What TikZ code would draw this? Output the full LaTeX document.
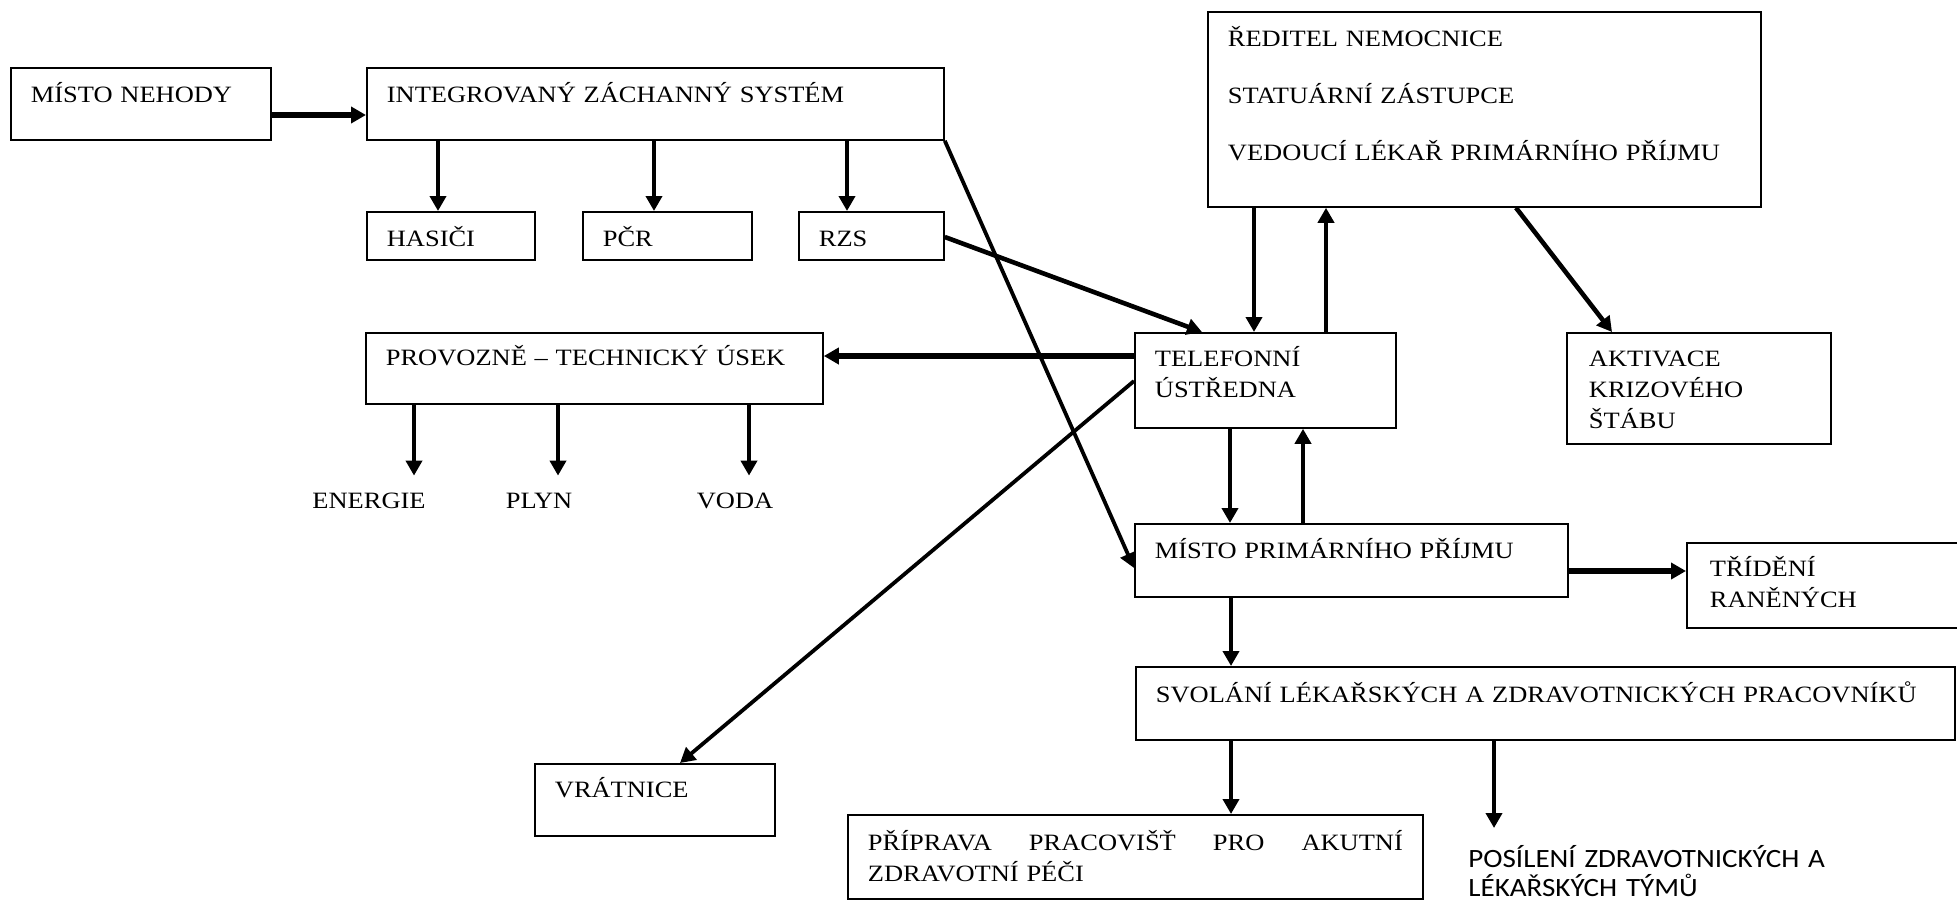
\documentclass[tikz,border=0pt]{standalone}
\usepackage{fontspec}
\setmainfont{Liberation Serif}[FakeStretch=1.13]
\newfontfamily\calibri{Carlito}[FakeStretch=1.1]
\usetikzlibrary{arrows.meta}

\tikzset{
  box/.style={draw, line width=0.9pt, anchor=north west, inner xsep=10pt, inner ysep=0pt,
    align=left, text height=17.5pt},
  lbl/.style={inner sep=0pt, anchor=base, text height=8.5pt},
  arr/.style={line width=2.3pt, -{Triangle[length=7.5pt,width=8pt]}},
  fat/.style={arr, line width=2.8pt},
}

\begin{document}
\begin{tikzpicture}[x=0.5pt, y=-0.5pt, font=\fontsize{11.7}{15.5}\selectfont]
    \useasboundingbox (0,0) rectangle (1957,904);
    % top row
    \node[box, text width=110pt, text depth=18.5pt] (nehoda) at (10,67) {MÍSTO NEHODY};
    \node[box, text width=268.5pt, text depth=18.5pt] (izs) at (366,67) {INTEGROVANÝ ZÁCHANNÝ SYSTÉM};
    \node[box, text width=64pt, text depth=6.5pt] (hasici) at (366,211) {HASIČI};
    \node[box, text width=64.5pt, text depth=6.5pt] (pcr) at (582,211) {PČR};
    \node[box, text width=52.5pt, text depth=6.5pt] (rzs) at (798,211) {RZS};
    \node[box, text width=256.5pt, text depth=80pt] (reditel) at (1207,11)
      {ŘEDITEL NEMOCNICE\\[13pt] STATUÁRNÍ ZÁSTUPCE\\[13pt] VEDOUCÍ LÉKAŘ PRIMÁRNÍHO PŘÍJMU};
    % middle
    \node[box, text width=208.5pt, text height=16.5pt, text depth=19pt] (provoz) at (365,332) {PROVOZNĚ – TECHNICKÝ ÚSEK};
    \node[box, text width=110.5pt, text height=17pt, text depth=30.5pt] (telefon) at (1134,332) {TELEFONNÍ\\ ÚSTŘEDNA};
    \node[box, text width=110pt, inner xsep=11pt, text height=17pt, text depth=38.5pt] (aktivace) at (1566,332) {AKTIVACE\\ KRIZOVÉHO\\ ŠTÁBU};
    \node[lbl] (energie) at (369,508) {ENERGIE};
    \node[lbl] (plyn) at (539,508) {PLYN};
    \node[lbl] (voda) at (735,508) {VODA};
    % bottom
    \node[box, text width=196.5pt, text depth=19pt] (mpp) at (1134,523) {MÍSTO PRIMÁRNÍHO PŘÍJMU};
    \node[box, text width=116pt, inner xsep=11.5pt, text height=17pt, text depth=25.5pt] (trideni) at (1686,542) {TŘÍDĚNÍ\\ RANĚNÝCH};
    \node[box, text width=389.5pt, text height=18pt, text depth=18.5pt] (svolani) at (1135,666) {SVOLÁNÍ LÉKAŘSKÝCH A ZDRAVOTNICKÝCH PRACOVNÍKŮ};
    \node[box, text width=100pt, text height=17pt, text depth=19pt] (vratnice) at (534,763) {VRÁTNICE};
    \node[box, text width=267.5pt, text height=18pt, text depth=24pt] (priprava) at (847,814)
      {PŘÍPRAVA\hfill PRACOVIŠŤ\hfill PRO\hfill AKUTNÍ\\ ZDRAVOTNÍ PÉČI};
    \node[anchor=north west, inner sep=0pt, align=left, text width=200pt, text height=8.5pt,
      font=\calibri\fontsize{13.2}{14.5}\selectfont] (posil) at (1468,850)
      {POSÍLENÍ ZDRAVOTNICKÝCH A\\ LÉKAŘSKÝCH TÝMŮ};

    \draw[fat] (nehoda.east |- 0,115) -- (izs.west |- 0,115);
    \foreach \x/\n in {438/hasici, 654/pcr, 847/rzs}
      \draw[arr] (\x,0 |- izs.south) -- (\x,0 |- \n.north);
    \draw[arr] (rzs.east |- 0,237) -- (1202,0 |- telefon.north);
    \draw[arr, line width=1.9pt] (izs.south east) -- (mpp.west |- 0,568);
    \draw[arr] (1254,0 |- reditel.south) -- (1254,0 |- telefon.north);
    \draw[arr] (1326,0 |- telefon.north) -- (1326,0 |- reditel.south);
    \draw[arr] (1516,0 |- reditel.south) -- (1612,0 |- aktivace.north);
    \draw[fat] (telefon.west |- 0,356) -- (provoz.east |- 0,356);
    \foreach \x/\n in {414/energie, 558/plyn, 749/voda}
      \draw[arr, shorten >=7.5pt] (\x,0 |- provoz.south) -- (\x,0 |- \n.north);
    \draw[arr, line width=1.9pt] (telefon.west |- 0,381) -- (680,0 |- vratnice.north);
    \draw[arr] (1230,0 |- telefon.south) -- (1230,0 |- mpp.north);
    \draw[arr] (1303,0 |- mpp.north) -- (1303,0 |- telefon.south);
    \draw[fat] (mpp.east |- 0,571) -- (trideni.west |- 0,571);
    \draw[arr] (1231,0 |- mpp.south) -- (1231,0 |- svolani.north);
    \draw[arr] (1231,0 |- svolani.south) -- (1231,0 |- priprava.north);
    \draw[arr, shorten >=11pt] (1494,0 |- svolani.south) -- (1494,0 |- posil.north);
  \end{tikzpicture}
\end{document}
